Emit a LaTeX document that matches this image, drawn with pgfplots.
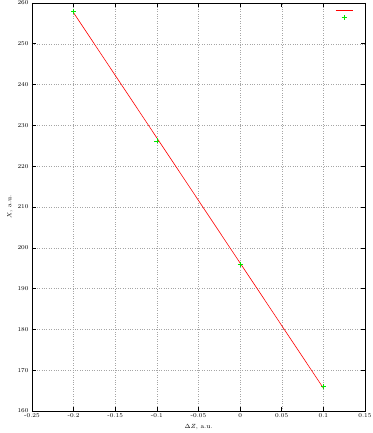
\documentclass[border=0pt]{standalone}
\usepackage{pgfplots}
\pgfplotsset{compat=1.18}
\definecolor{gpred}{RGB}{255,0,0}
\definecolor{gpgreen}{RGB}{0,230,0}
\begin{document}
\begin{tikzpicture}[x=1bp,y=1bp]
\path[use as bounding box] (-32bp,-22bp) rectangle (341bp,411bp);
\begin{axis}[
  at={(0,0)}, anchor=south west,
  scale only axis, width=333bp, height=408bp,
  xmin=-0.25, xmax=0.15, ymin=160, ymax=260,
  xtick={-0.25,-0.2,...,0.151},
  ytick={160,170,...,260},
  xticklabels={-0.25,-0.2,-0.15,-0.1,-0.05,0,0.05,0.1,0.15},
  scaled x ticks=false,
  grid=major,
  grid style={dotted, gray!70, line width=0.4pt},
  axis line style={black, line width=0.6pt},
  tick style={black, line width=0.6pt},
  major tick length=4bp,
  tick align=inside,
  tick label style={font=\fontsize{6}{7}\selectfont},
  label style={font=\fontsize{6.5}{8}\selectfont},
  xticklabel style={yshift=1bp},
  xlabel={$\Delta Z$, a.u.},
  ylabel={$X$, a.u.},
  xlabel style={at={(axis description cs:0.5,0)}, anchor=north, yshift=-10bp},
  ylabel style={yshift=-2bp},
  legend style={draw=none, fill=none, at={(0.985,0.993)}, anchor=north east, font=\fontsize{6}{7}\selectfont, row sep=1.5pt},
  legend cell align=left,
]
\addplot[color=gpred, line width=0.6pt, no marks] coordinates {(-0.2,257.6) (0.1,165.6)};
\addlegendentry{}
\addplot[only marks, mark=+, mark size=2.5bp, color=gpgreen, mark options={line width=0.6pt, draw=gpgreen}] coordinates {(-0.2,258) (-0.1,226.2) (0,196) (0.1,166.1)};
\addlegendentry{}
\end{axis}
\end{tikzpicture}
\end{document}
